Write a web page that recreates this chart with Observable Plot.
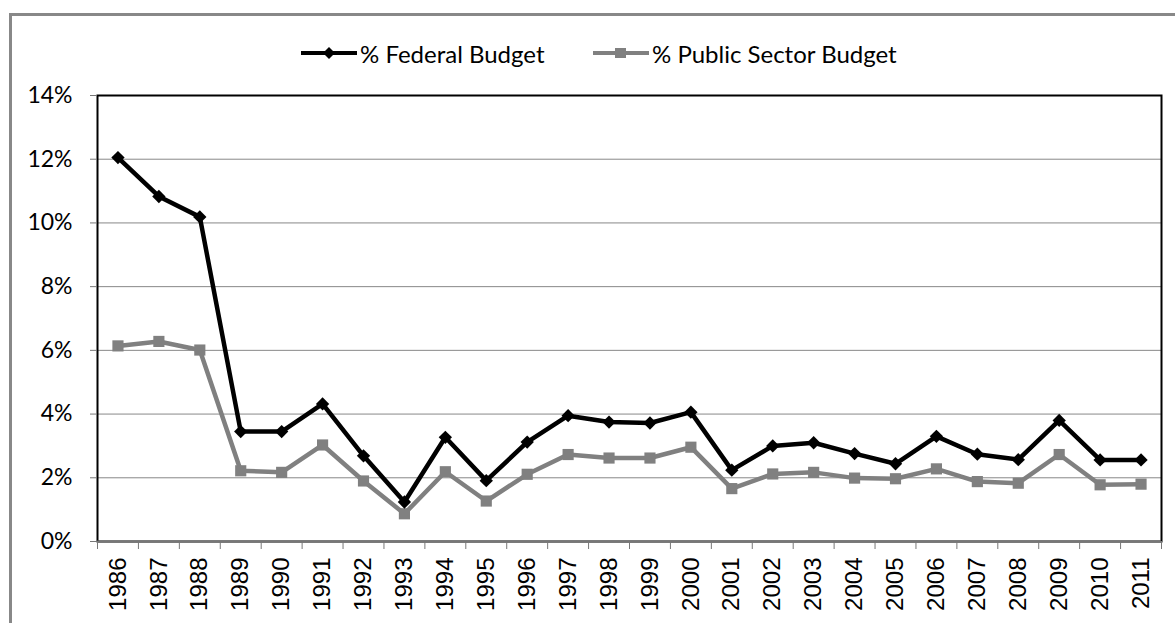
<!DOCTYPE html>
<html><head><meta charset="utf-8">
<script src="https://cdn.jsdelivr.net/npm/d3@7"></script>
<script src="https://cdn.jsdelivr.net/npm/@observablehq/plot@0.6"></script>
<style>
html,body{margin:0;padding:0;background:#fff;overflow:hidden;width:1175px;height:623px;}
#outer{position:absolute;left:9px;top:13px;width:1250px;height:700px;border-left:3px solid #888;border-top:3px solid #888;}
#chart{position:absolute;left:0;top:0;}
.item{position:absolute;top:40px;height:26px;display:flex;align-items:center;font-family:Lato,sans-serif;font-size:24px;color:#000;white-space:nowrap;}
.item svg{margin-right:3px;}
</style></head><body>
<div id="outer"></div>
<div id="chart"></div>
<div id="legend"></div>
<script>
const years = [1986,1987,1988,1989,1990,1991,1992,1993,1994,1995,1996,1997,1998,1999,2000,2001,2002,2003,2004,2005,2006,2007,2008,2009,2010,2011];
const federalBudget = [12.05,10.83,10.19,3.45,3.45,4.32,2.69,1.24,3.27,1.91,3.12,3.95,3.75,3.72,4.06,2.24,3.00,3.10,2.76,2.44,3.30,2.74,2.57,3.80,2.56,2.56];
const publicSectorBudget = [6.14,6.28,6.01,2.22,2.17,3.03,1.90,0.87,2.19,1.27,2.11,2.73,2.62,2.62,2.96,1.66,2.12,2.17,1.99,1.97,2.28,1.88,1.83,2.73,1.78,1.80];
const yTicks = [0,2,4,6,8,10,12,14];
const seriesNames = ["% Federal Budget", "% Public Sector Budget"];
const seriesColors = ["#000000", "#808080"];

const fed = years.map((year, i) => ({year, value: federalBudget[i]}));
const pub = years.map((year, i) => ({year, value: publicSectorBudget[i]}));
const boundaries = years.map(y => y - 0.5).concat([years[years.length - 1] + 0.5]);

const chart = Plot.plot({
  width: 1175,
  height: 623,
  marginLeft: 97,
  marginRight: 14,
  marginTop: 95,
  marginBottom: 82,
  style: {background: "transparent", overflow: "visible"},
  x: {type: "linear", domain: [years[0] - 0.5, years[years.length - 1] + 0.5]},
  y: {domain: [0, 14]},
  marks: [
    Plot.gridY(yTicks.slice(1, -1), {stroke: "#888", strokeOpacity: 1, strokeWidth: 1}),
    Plot.frame({stroke: "#000", strokeWidth: 2}),
    Plot.ruleY([0], {stroke: "#777", strokeWidth: 2}),
    Plot.axisY({ticks: yTicks, tickFormat: d => d + "%", tickSize: 7, tickPadding: 18, fontSize: 23, fontFamily: "Lato, sans-serif", color: "#000", stroke: "#777", label: null}),
    Plot.axisX({ticks: boundaries, tickFormat: () => "", tickSize: 8, stroke: "#777", label: null}),
    Plot.axisX({ticks: years, tickFormat: d => String(d), tickSize: 0, tickPadding: 16, tickRotate: -90, fontSize: 24, fontFamily: "Liberation Sans, Arial, sans-serif", color: "#000", label: null}),
    Plot.line(pub, {x: "year", y: "value", stroke: seriesColors[1], strokeWidth: 4.5}),
    Plot.line(fed, {x: "year", y: "value", stroke: seriesColors[0], strokeWidth: 4.5}),
    Plot.dot(pub, {x: "year", y: "value", symbol: "square", r: 6.3, fill: seriesColors[1], stroke: "none"}),
    Plot.dot(fed, {x: "year", y: "value", symbol: "diamond2", r: 6, fill: seriesColors[0], stroke: "none"})
  ]
});
document.getElementById("chart").appendChild(chart);

// legend
const legend = document.getElementById("legend");
const legendLeft = [301, 593];
seriesNames.forEach((name, i) => {
  const div = document.createElement("div");
  div.className = "item";
  div.style.left = legendLeft[i] + "px";
  const marker = i === 0
    ? `<path d="M28,1 L34,7 L28,13 L22,7 Z" fill="${seriesColors[i]}"/>`
    : `<rect x="22" y="2" width="11" height="10" fill="${seriesColors[i]}"/>`;
  div.innerHTML = `<svg width="56" height="14"><line x1="0" x2="56" y1="7" y2="7" stroke="${seriesColors[i]}" stroke-width="4"/>${marker}</svg><span>${name}</span>`;
  legend.appendChild(div);
});
</script>
</body></html>
